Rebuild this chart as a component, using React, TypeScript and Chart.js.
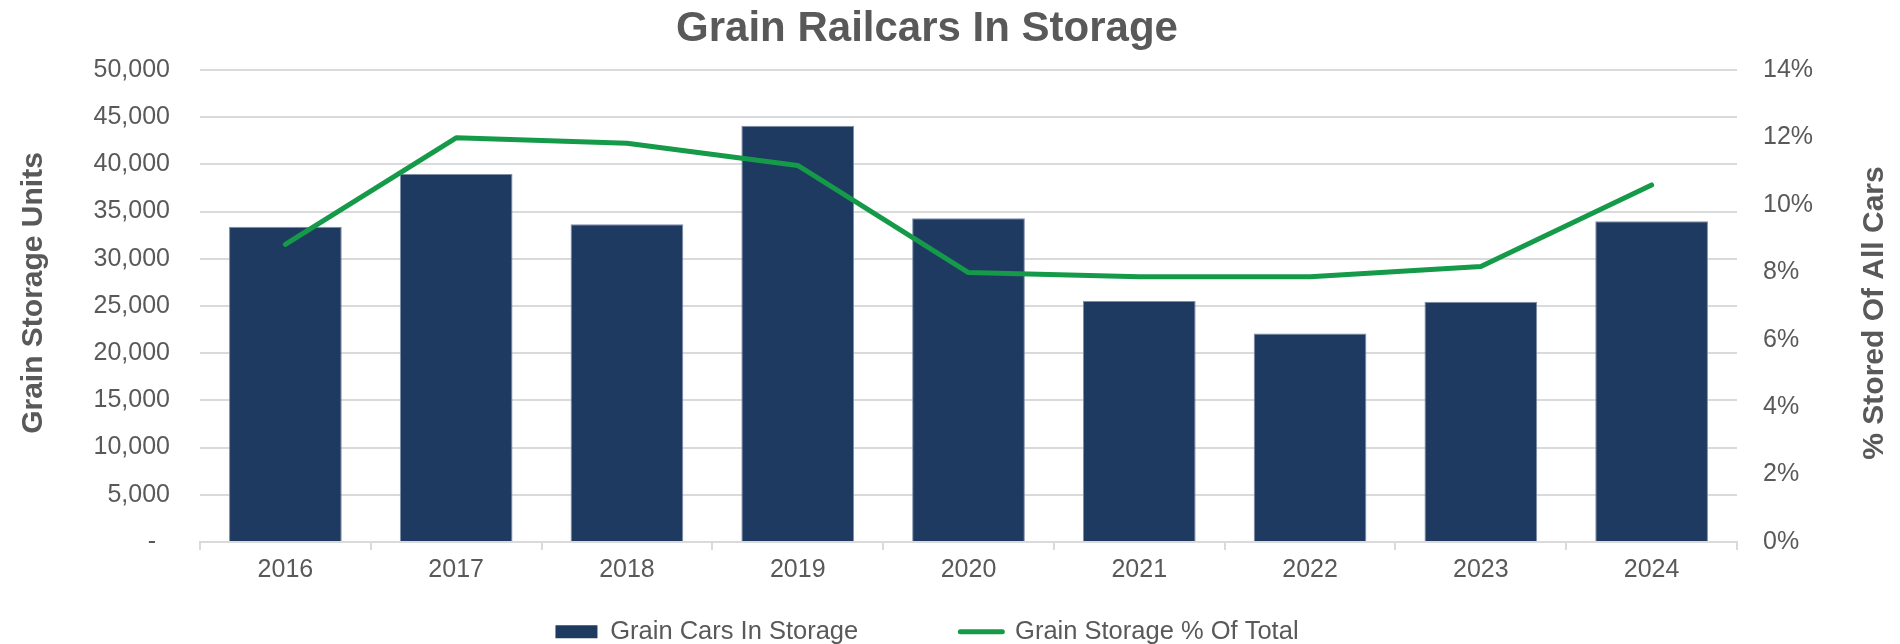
import React, { useEffect, useRef } from "react";
import { Chart, registerables } from "chart.js";

Chart.register(...registerables);

const YEARS = ["2016", "2017", "2018", "2019", "2020", "2021", "2022", "2023", "2024"];
const GRAIN_CARS = [33400, 38980, 33650, 44100, 34290, 25530, 22100, 25460, 33980];
const GRAIN_PCT = [8.83, 11.99, 11.83, 11.17, 7.99, 7.87, 7.87, 8.17, 10.59];

const TITLE = "Grain Railcars In Storage";
const Y_TITLE = "Grain Storage Units";
const Y1_TITLE = "% Stored Of All Cars";
const LEGEND_LABELS = ["Grain Cars In Storage", "Grain Storage % Of Total"];

const BAR_COLOR = "#1F3A60";
const BAR_EDGE = "#7d8da8";
const LINE_COLOR = "#149A48";
const TEXT_COLOR = "#595959";
const GRID_COLOR = "#dadada";
const FONT = "'Liberation Sans', Arial, Helvetica, sans-serif";

const axisTitlesPlugin = {
  id: "axisTitles",
  afterDraw(chart: any) {
    const ctx = chart.ctx;
    const draw = (text: string, x: number, y: number) => {
      ctx.save();
      ctx.translate(x, y);
      ctx.rotate(-Math.PI / 2);
      ctx.font = `bold 30px ${FONT}`;
      ctx.fillStyle = TEXT_COLOR;
      ctx.textAlign = "center";
      ctx.textBaseline = "middle";
      ctx.fillText(text, 0, 0);
      ctx.restore();
    };
    const yl = chart.scales.y;
    const yr = chart.scales.y1;
    draw(Y_TITLE, yl.left + 34, (yl.top + yl.bottom) / 2 - 13);
    draw(Y1_TITLE, yr.right + 21, (yr.top + yr.bottom) / 2 + 7);
  },
};

export default function App() {
  const ref = useRef<HTMLCanvasElement | null>(null);

  useEffect(() => {
    if (!ref.current) return;
    const chart = new Chart(ref.current, {
      type: "bar",
      data: {
        labels: YEARS,
        datasets: [
          {
            type: "bar",
            label: LEGEND_LABELS[0],
            data: GRAIN_CARS,
            backgroundColor: BAR_COLOR,
            borderColor: BAR_EDGE,
            borderWidth: 1,
            barPercentage: 0.66,
            categoryPercentage: 1,
            yAxisID: "y",
            order: 2,
          },
          {
            type: "line",
            label: LEGEND_LABELS[1],
            data: GRAIN_PCT,
            borderColor: LINE_COLOR,
            backgroundColor: LINE_COLOR,
            borderWidth: 5,
            borderCapStyle: "round",
            borderJoinStyle: "round",
            pointRadius: 0,
            tension: 0,
            yAxisID: "y1",
            order: 1,
          },
        ],
      },
      options: {
        responsive: false,
        animation: false,
        layout: { padding: { left: 0, right: 46, top: 0, bottom: -10.5 } },
        plugins: {
          tooltip: { enabled: false },
          title: {
            display: true,
            text: TITLE,
            color: TEXT_COLOR,
            font: { family: FONT, size: 42, weight: "bold" },
            padding: { top: 4.4, bottom: 15.2 },
          },
          legend: {
            display: true,
            position: "bottom",
            labels: {
              usePointStyle: true,
              pointStyleWidth: 42,
              boxHeight: 13,
              padding: 10,
              color: TEXT_COLOR,
              font: { family: FONT, size: 25.5 },
              generateLabels: () => [
                {
                  text: LEGEND_LABELS[0] + " ".repeat(13),
                  fillStyle: BAR_COLOR,
                  strokeStyle: BAR_COLOR,
                  lineWidth: 0,
                  pointStyle: "rect",
                  hidden: false,
                  datasetIndex: 0,
                  fontColor: TEXT_COLOR,
                },
                {
                  text: LEGEND_LABELS[1],
                  fillStyle: LINE_COLOR,
                  strokeStyle: LINE_COLOR,
                  lineWidth: 5,
                  lineCap: "round",
                  pointStyle: "line",
                  hidden: false,
                  datasetIndex: 1,
                  fontColor: TEXT_COLOR,
                },
              ],
            },
          },
        },
        scales: {
          x: {
            offset: true,
            grid: {
              display: true,
              drawOnChartArea: false,
              drawTicks: true,
              tickLength: 8,
              color: GRID_COLOR,
              lineWidth: 2,
            },
            border: { display: true, color: GRID_COLOR, width: 2 },
            ticks: {
              color: TEXT_COLOR,
              font: { family: FONT, size: 25 },
              padding: 5.5,
              maxRotation: 0,
              autoSkip: false,
            },
            afterFit: (s: any) => {
              s.height = 67;
            },
          },
          y: {
            position: "left",
            min: 0,
            max: 50000,
            grid: { display: true, drawTicks: false, color: GRID_COLOR, lineWidth: 2 },
            border: { display: false },
            ticks: {
              stepSize: 5000,
              color: TEXT_COLOR,
              font: { family: FONT, size: 25 },
              padding: 30,
              callback: (v: any) => (Number(v) === 0 ? "-  " : Number(v).toLocaleString("en-US")),
            },
            title: { display: false, text: Y_TITLE },
            afterFit: (s: any) => {
              s.width = 200;
            },
          },
          y1: {
            position: "right",
            min: 0,
            max: 14,
            grid: { display: false, drawTicks: false, drawOnChartArea: false },
            border: { display: false },
            ticks: {
              stepSize: 2,
              color: TEXT_COLOR,
              font: { family: FONT, size: 25 },
              padding: 26,
              callback: (v: any) => `${Number(v)}%`,
            },
            title: { display: false, text: Y1_TITLE },
            afterFit: (s: any) => {
              s.width = 117;
            },
          },
        },
      },
      plugins: [axisTitlesPlugin],
    } as any);
    return () => chart.destroy();
  }, []);

  return (
    <div style={{ position: "absolute", left: 0, top: 0, width: 1900, height: 644, background: "#fff" }}>
      <canvas ref={ref} width={1900} height={644} style={{ display: "block", width: 1900, height: 644 }} />
    </div>
  );
}
